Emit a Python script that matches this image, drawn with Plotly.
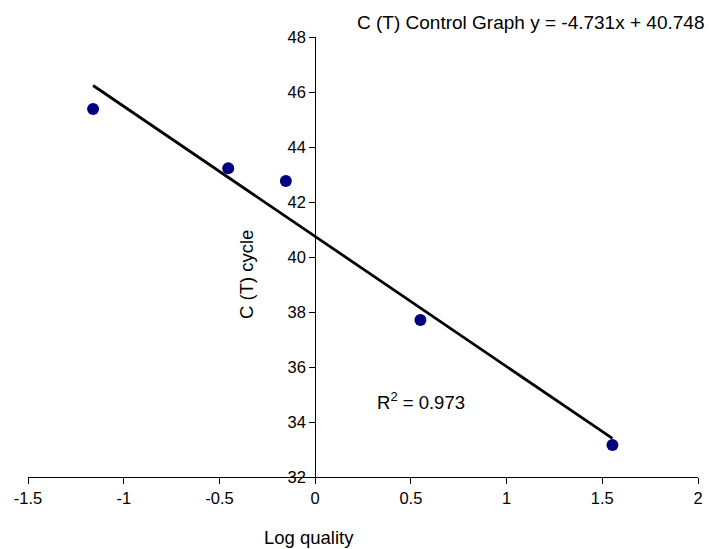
import plotly.graph_objects as go

log_quality = [-1.16, -0.454, -0.153, 0.55, 1.553]
ct_cycle = [45.38, 43.23, 42.76, 37.71, 33.16]
slope = -4.731
intercept = 40.748
r_squared = 0.973
x_ticks = [-1.5, -1, -0.5, 0, 0.5, 1, 1.5, 2]
y_ticks = [32, 34, 36, 38, 40, 42, 44, 46, 48]

fit_x = [min(log_quality), max(log_quality)]
fit_y = [slope * v + intercept for v in fit_x]

fig = go.Figure()
fig.add_trace(go.Scatter(x=fit_x, y=fit_y, mode="lines",
                         line=dict(color="black", width=2.75), showlegend=False))
fig.add_trace(go.Scatter(x=log_quality, y=ct_cycle, mode="markers",
                         marker=dict(color="#000080", size=12), showlegend=False))

font = "Liberation Sans, Arial, sans-serif"
fig.update_layout(
    width=709, height=549,
    margin=dict(l=28, r=6, t=37, b=72),
    plot_bgcolor="white", paper_bgcolor="white",
    font=dict(family=font, size=16.5, color="black"),
    xaxis=dict(range=[-1.5, 2], tickvals=x_ticks, ticktext=[str(v) for v in x_ticks],
               showgrid=False, zeroline=False, showline=True, linecolor="black", linewidth=1,
               ticks="outside", ticklen=6, tickcolor="black", tickfont=dict(size=16.5)),
    yaxis=dict(range=[32, 48], tickvals=y_ticks, showgrid=False, zeroline=False,
               showline=True, linecolor="black", linewidth=1,
               ticks="outside", ticklen=6, tickcolor="black", tickfont=dict(size=16.5),
               anchor="free", position=1.5 / 3.5),
    annotations=[
        dict(text="C (T) Control Graph y = " + f"{slope}x + {intercept}", xref="paper", yref="paper",
             x=1.0, y=1.0, xanchor="right", yanchor="middle", xshift=8, yshift=15,
             showarrow=False, font=dict(size=19)),
        dict(text="C (T) cycle", xref="x", yref="y", x=0, y=39.35, xshift=-68,
             textangle=-90, showarrow=False, font=dict(size=18.5)),
        dict(text="Log quality", xref="x", yref="paper", x=0, y=0, xshift=-6, yshift=-60,
             yanchor="middle", showarrow=False, font=dict(size=18.5)),
        dict(text="R<sup>2</sup> = " + f"{r_squared}", xref="x", yref="y", x=0.314, y=34.76,
             xanchor="left", showarrow=False, font=dict(size=18.5)),
    ],
)

fig.write_html("out.html", config={"displayModeBar": False},
               post_script="document.body.style.margin='0';")
